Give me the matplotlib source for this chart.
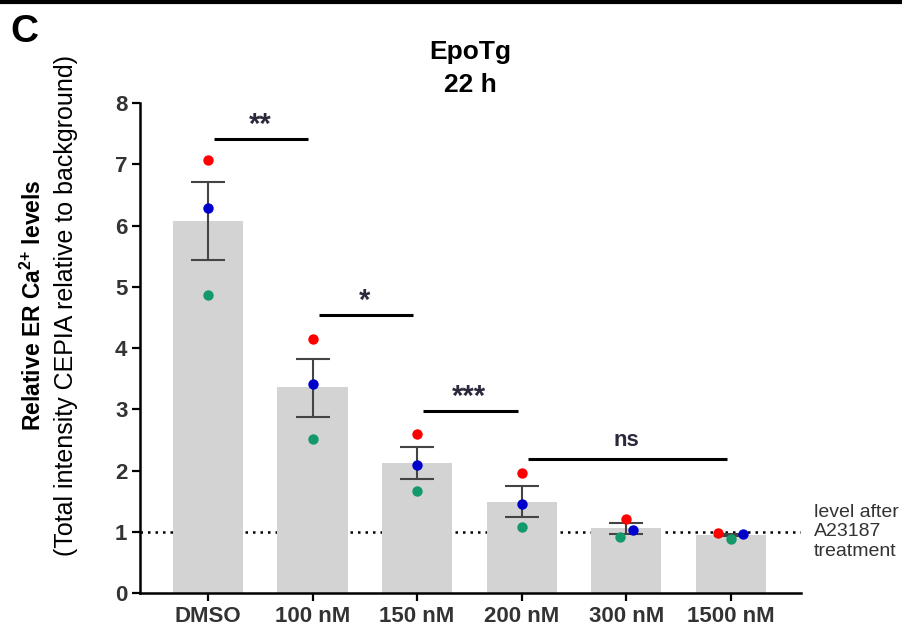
import numpy as np
import matplotlib.pyplot as plt

plt.rcParams["font.family"] = ["Liberation Sans", "DejaVu Sans"]
plt.rcParams["mathtext.fontset"] = "custom"
plt.rcParams["mathtext.rm"] = "Liberation Sans"
plt.rcParams["mathtext.bf"] = "Liberation Sans:bold"

categories = ["DMSO", "100 nM", "150 nM", "200 nM", "300 nM", "1500 nM"]
means = [6.08, 3.36, 2.12, 1.49, 1.06, 0.95]
sem_upper = [6.71, 3.82, 2.38, 1.75, 1.14, 0.97]
sem_lower = [5.44, 2.87, 1.86, 1.24, 0.96, 0.93]

rep_red = [7.07, 4.15, 2.60, 1.96, 1.21, 0.98]
rep_blue = [6.29, 3.41, 2.09, 1.45, 1.03, 0.96]
rep_green = [4.87, 2.51, 1.67, 1.08, 0.91, 0.89]

# horizontal nudge of overlapping points (category units)
off_red = [0, 0, 0, 0, 0, -0.12]
off_blue = [0, 0, 0, 0, 0.06, 0.12]
off_green = [0, 0, 0, 0, -0.06, 0]

# significance brackets: (from, to, height, label)
brackets = [(0, 1, 7.41, "**"), (1, 2, 4.54, "*"), (2, 3, 2.97, "***"), (3, 5, 2.19, "ns")]

baseline = 1.0

fig = plt.figure(figsize=(9.03, 6.29), dpi=100)
ax = fig.add_axes([0.155, 0.0572, 0.732, 0.779])

x = np.arange(len(categories))
ax.axhline(baseline, color="black", linestyle=(0, (1, 2)), linewidth=1.8, zorder=1)
ax.bar(x, means, width=0.67, color="#d3d3d3", zorder=2)

lo = np.array(means) - np.array(sem_lower)
hi = np.array(sem_upper) - np.array(means)
ax.errorbar(x, means, yerr=[lo, hi], fmt="none", ecolor="#444444",
            elinewidth=1.5, capsize=12, capthick=1.5, zorder=3)

for vals, offs, col in [(rep_red, off_red, "#ff0000"),
                        (rep_blue, off_blue, "#0000cc"),
                        (rep_green, off_green, "#13996a")]:
    ax.scatter(x + np.array(offs), vals, s=56, color=col, zorder=4, linewidths=0)

for i, j, h, lab in brackets:
    ax.plot([i + 0.06, j - 0.04], [h, h], color="black", linewidth=2.2,
            solid_capstyle="butt", zorder=5)
    if lab == "ns":
        ax.text((i + j) / 2, h + 0.13, lab, ha="center", va="bottom",
                fontsize=16, fontweight="bold", color="#2a2a3c")
    else:
        ax.text((i + j) / 2, h + 0.0, lab, ha="center", va="bottom",
                fontsize=21, fontweight="bold", color="#2a2a3c")

ax.set_xlim(-0.65, 5.67)
ax.set_ylim(0, 8)
ax.set_yticks(range(0, 9))
ax.set_xticks(x)
ax.set_xticklabels(categories)
for lab in ax.get_xticklabels() + ax.get_yticklabels():
    lab.set_fontweight("bold")
    lab.set_fontsize(16)
    lab.set_color("#333333")

for s in ["top", "right"]:
    ax.spines[s].set_visible(False)
for s in ["left", "bottom"]:
    ax.spines[s].set_linewidth(1.8)
ax.tick_params(direction="out", length=6, width=1.6, pad=3)

ax.set_title("EpoTg\n22 h", fontsize=19, fontweight="bold", pad=8, linespacing=1.45)

fig.text(0.037, 0.515, "Relative ER Ca$^{\\mathbf{2{+}}}$ levels", rotation=90,
         ha="center", va="center", fontsize=16.5, fontweight="bold")
fig.text(0.073, 0.515, "(Total intensity CEPIA relative to background)", rotation=90,
         ha="center", va="center", fontsize=18)

ax.text(1.02, baseline, "level after\nA23187\ntreatment", transform=ax.get_yaxis_transform(),
        ha="left", va="center", fontsize=14, color="#333333", linespacing=1.2)

fig.text(0.012, 0.949, "C", fontsize=28, fontweight="bold", ha="left", va="center")
fig.add_artist(plt.Line2D([0, 1], [0.997, 0.997], transform=fig.transFigure,
                          color="black", linewidth=3))

fig.savefig("out.png", dpi=100)
